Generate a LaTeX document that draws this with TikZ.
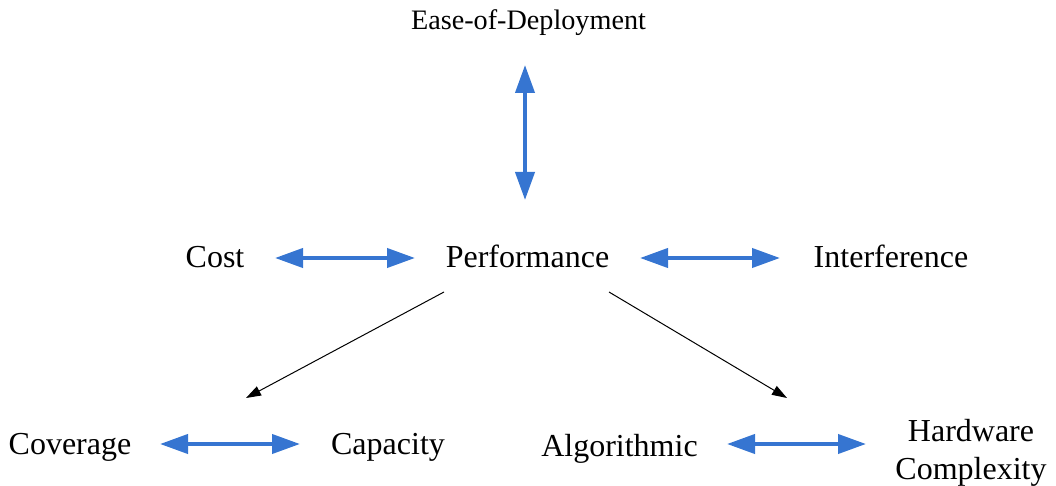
\documentclass[tikz,border=0pt]{standalone}
\usepackage{fontspec}
\setmainfont{Liberation Serif}
\usetikzlibrary{arrows.meta}
\definecolor{arrblue}{RGB}{54,117,209}
\begin{document}
\begin{tikzpicture}[x=1pt,y=-1pt,
  lbl/.style={inner sep=0pt,anchor=base,font=\fontsize{32}{38}\selectfont},
  twolbl/.style={inner sep=0pt,font=\fontsize{32}{38}\selectfont,align=center},
  smalllbl/.style={inner sep=0pt,anchor=base,font=\fontsize{28.2}{33}\selectfont},
  dbl/.style={draw=arrblue,line width=4pt,{Triangle[length=28pt,width=19pt]}-{Triangle[length=28pt,width=19pt]}},
  thin/.style={draw=black,line width=1pt,-{Triangle[length=15pt,width=10pt]}}]
\useasboundingbox (0,0) rectangle (1056,486);
\node[smalllbl] (ease) at (528.5,30) {Ease-of-Deployment};
\node[lbl] (cost) at (215,267) {Cost};
\node[lbl] (perf) at (527.5,267) {Performance};
\node[lbl] (inter) at (891,267) {Interference};
\node[lbl] (cov) at (70,454) {Coverage};
\node[lbl] (cap) at (388,454) {Capacity};
\node[lbl] (alg) at (619.5,456) {Algorithmic};
\node[twolbl] (hw) at (971,453) {Hardware\\Complexity};
% arrow end coordinates
\coordinate (v1) at (525,65);
\coordinate (v2) at (525,200);
\coordinate (c1) at (275,258);
\coordinate (c2) at (415,258);
\coordinate (i1) at (640,258);
\coordinate (i2) at (780,258);
\coordinate (cc1) at (160,444);
\coordinate (cc2) at (300,444);
\coordinate (ah1) at (727,444);
\coordinate (ah2) at (866,444);
\coordinate (pl) at (444,292);
\coordinate (pr) at (609,292);
\coordinate (tl) at (246,398);
\coordinate (tr) at (787,398);
\draw[dbl] (v1) -- (v2);
\draw[dbl] (c1) -- (c2);
\draw[dbl] (i1) -- (i2);
\draw[dbl] (cc1) -- (cc2);
\draw[dbl] (ah1) -- (ah2);
\draw[thin] (pl) -- (tl);
\draw[thin] (pr) -- (tr);
\end{tikzpicture}
\end{document}
